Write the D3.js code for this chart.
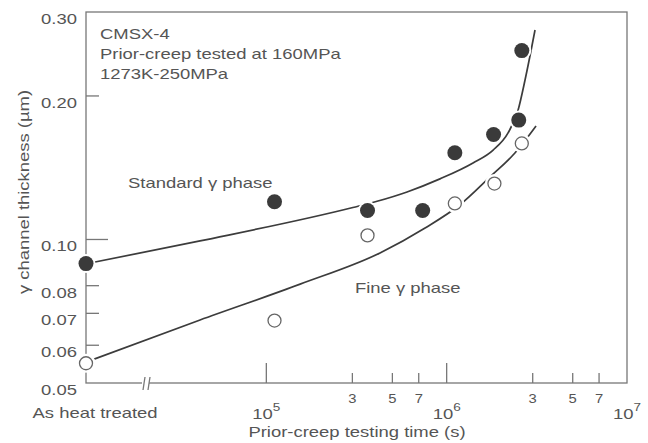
<!DOCTYPE html>
<html>
<head>
<meta charset="utf-8">
<script src="https://cdn.jsdelivr.net/npm/d3@7"></script>
<style>
  body { margin: 0; background: #fff; }
  text { font-family: "Liberation Sans", Arial, sans-serif; fill: #555; }
</style>
</head>
<body>
<div id="chart"></div>
<script>
// time 0 means "As heat treated" and sits on the left axis
const standardTimes = [0, 1.11e5, 3.64e5, 7.36e5, 1.11e6, 1.82e6, 2.51e6, 2.61e6];
const standardValues = [0.089, 0.120, 0.115, 0.115, 0.152, 0.166, 0.178, 0.249];
const fineTimes = [0, 1.11e5, 3.64e5, 1.11e6, 1.84e6, 2.61e6];
const fineValues = [0.055, 0.0676, 0.102, 0.119, 0.131, 0.159];

// hand drawn trend curves
const standardCurveTimes = [0, 4.29e4, 3.02e5, 4.16e5, 6.03e5, 9.18e5, 1.40e6, 1.81e6, 2.19e6, 2.49e6, 2.72e6, 3.09e6];
const standardCurveValues = [0.0889, 0.0993, 0.1167, 0.1204, 0.1258, 0.134, 0.1447, 0.154, 0.1673, 0.1869, 0.216, 0.275];
const fineCurveTimes = [0, 4.29e4, 1.54e5, 4.27e5, 7.59e5, 1.19e6, 1.74e6, 2.39e6, 3.13e6];
const fineCurveValues = [0.0553, 0.0678, 0.0806, 0.0937, 0.1057, 0.1184, 0.1353, 0.1518, 0.173];

const yTicks = [0.05, 0.06, 0.07, 0.08, 0.10, 0.20, 0.30];
const yTickLabels = ["0.05", "0.06", "0.07", "0.08", "0.10", "0.20", "0.30"];
const yLongTicks = [0.10];
const xMajorTicks = [1e5, 1e6, 1e7];
const xMajorExponents = ["5", "6", "7"];
const xMinorTicks = [3e5, 5e5, 7e5, 3e6, 5e6, 7e6];
const xMinorLabels = ["3", "5", "7", "3", "5", "7"];

const width = 648, height = 443;
const SX = 1.23; // the scan's lettering is stretched sideways

const svg = d3.select("#chart")
    .append("svg")
    .attr("width", width)
    .attr("height", height);

const x = d3.scaleLog().domain([1e4, 1e7]).range([86, 627]);
const y = d3.scaleLog().domain([0.05, 0.30]).range([383, 12]);
const xPos = (t) => x(t === 0 ? 1e4 : t);

function label(x0, y0, str, anchor, size, rotate) {
    return svg.append("text")
        .attr("transform", `translate(${x0},${y0})${rotate ? " rotate(-90)" : ""} scale(${SX},1)`)
        .attr("text-anchor", anchor)
        .attr("font-size", size)
        .text(str);
}

// frame
svg.append("rect")
    .attr("x", x(1e4))
    .attr("y", y(0.30))
    .attr("width", x(1e7) - x(1e4))
    .attr("height", y(0.05) - y(0.30))
    .attr("fill", "none")
    .attr("stroke", "#777")
    .attr("stroke-width", 1.3);

// y ticks point inward
svg.selectAll("line.ytick")
    .data(yTicks.filter(d => d > 0.05 && d < 0.30))
    .join("line")
    .classed("ytick", true)
    .attr("x1", x(1e4))
    .attr("x2", d => x(1e4) + (yLongTicks.includes(d) ? 22 : 13))
    .attr("y1", d => y(d))
    .attr("y2", d => y(d))
    .attr("stroke", "#777")
    .attr("stroke-width", 1.3);

yTicks.forEach((d, i) => label(77, y(d) + 12, yTickLabels[i], "end", 15));

// x ticks
svg.selectAll("line.xmajor")
    .data(xMajorTicks.filter(d => d < 1e7))
    .join("line")
    .classed("xmajor", true)
    .attr("x1", d => x(d))
    .attr("x2", d => x(d))
    .attr("y1", y(0.05))
    .attr("y2", y(0.05) - 20)
    .attr("stroke", "#777")
    .attr("stroke-width", 1.3);

svg.selectAll("line.xminor")
    .data(xMinorTicks)
    .join("line")
    .classed("xminor", true)
    .attr("x1", d => x(d))
    .attr("x2", d => x(d))
    .attr("y1", y(0.05))
    .attr("y2", y(0.05) - 10)
    .attr("stroke", "#777")
    .attr("stroke-width", 1.3);

xMinorTicks.forEach((d, i) => label(x(d), 403, xMinorLabels[i], "middle", 12));

xMajorTicks.forEach((d, i) => {
    const t = label(x(d), 419, "10", "middle", 15);
    t.append("tspan")
        .attr("dy", -8)
        .attr("font-size", 11)
        .text(xMajorExponents[i]);
});

label(95, 418, "As heat treated", "middle", 15);
label(357, 437, "Prior-creep testing time (s)", "middle", 15);
label(29, 192, "γ channel thickness (µm)", "middle", 15, true);

// axis break
svg.append("rect")
    .attr("x", 142).attr("y", 380)
    .attr("width", 7).attr("height", 6)
    .attr("fill", "#fff");
[143, 148].forEach(bx => {
    svg.append("line")
        .attr("x1", bx).attr("y1", 390)
        .attr("x2", bx + 2).attr("y2", 377)
        .attr("stroke", "#777")
        .attr("stroke-width", 1.3);
});

// trend curves
const line = d3.line()
    .x(d => xPos(d[0]))
    .y(d => y(d[1]))
    .curve(d3.curveMonotoneX);

svg.append("path")
    .datum(d3.zip(standardCurveTimes, standardCurveValues))
    .attr("d", line)
    .attr("fill", "none")
    .attr("stroke", "#3c3c3c")
    .attr("stroke-width", 1.7);

svg.append("path")
    .datum(d3.zip(fineCurveTimes, fineCurveValues))
    .attr("d", line)
    .attr("fill", "none")
    .attr("stroke", "#3c3c3c")
    .attr("stroke-width", 1.7);

// white halo under the markers breaks the curves like in the print
const points = d3.zip(standardTimes, standardValues).map(d => ({t: d[0], v: d[1], filled: true}))
    .concat(d3.zip(fineTimes, fineValues).map(d => ({t: d[0], v: d[1], filled: false})));

svg.selectAll("circle.halo")
    .data(points)
    .join("circle")
    .classed("halo", true)
    .attr("cx", d => xPos(d.t))
    .attr("cy", d => y(d.v))
    .attr("r", 9.5)
    .attr("fill", "#fff");

svg.selectAll("circle.pt")
    .data(points)
    .join("circle")
    .classed("pt", true)
    .attr("cx", d => xPos(d.t))
    .attr("cy", d => y(d.v))
    .attr("r", d => d.filled ? 7.5 : 6.5)
    .attr("fill", d => d.filled ? "#3a3a3a" : "#fff")
    .attr("stroke", d => d.filled ? "none" : "#666")
    .attr("stroke-width", 1.3);

// annotations
label(100, 39, "CMSX-4", "start", 15);
label(100, 59, "Prior-creep tested at 160MPa", "start", 15);
label(100, 78.5, "1273K-250MPa", "start", 15);
label(128, 188, "Standard γ phase", "start", 15);
label(355, 293, "Fine γ phase", "start", 15);
</script>
</body>
</html>
